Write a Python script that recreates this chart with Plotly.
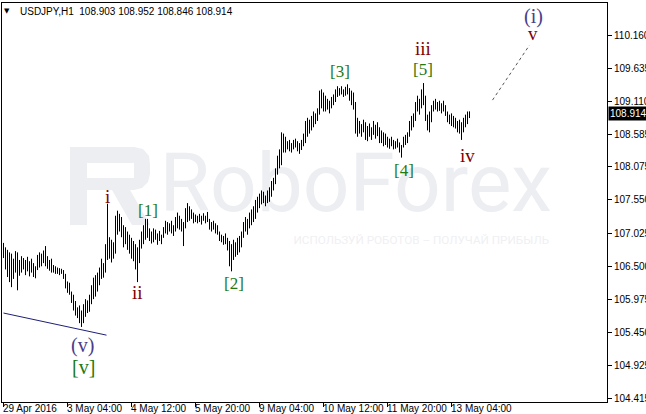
import plotly.graph_objects as go

# ---------------- data ----------------
symbol = "USDJPY,H1"
last_ohlc = [108.903, 108.952, 108.846, 108.914]

highs = [
    106.87, 106.80, 106.76, 106.72, 106.70, 106.62, 106.74, 106.72, 106.60, 106.66,
    106.63, 106.60, 106.65, 106.58, 106.62, 106.55, 106.50, 106.68, 106.72, 106.70,
    106.75, 106.82, 106.66, 106.60, 106.62, 106.52, 106.50, 106.48, 106.47, 106.46,
    106.44, 106.38, 106.26, 106.24, 106.10, 106.05, 105.95, 105.85, 105.88, 105.80,
    105.90, 105.98, 105.96, 106.05, 106.20, 106.32, 106.36, 106.40, 106.48, 106.62,
    106.55, 106.85, 107.49, 106.96, 106.92, 106.88, 107.30, 107.38, 107.33, 107.28,
    107.15, 107.12, 107.05, 107.00, 106.95, 106.90, 106.85, 106.80, 106.92, 107.05,
    107.15, 107.25, 107.25, 107.10, 107.05, 107.10, 107.08, 107.02, 107.06, 107.00,
    107.12, 107.22, 107.20, 107.18, 107.22, 107.15, 107.28, 107.35, 107.30, 107.25,
    107.20, 107.42, 107.50, 107.45, 107.40, 107.35, 107.32, 107.30, 107.33, 107.30,
    107.34, 107.30, 107.36, 107.25, 107.20, 107.22, 107.18, 107.15, 107.05, 107.00,
    106.98, 107.02, 106.95, 106.90, 106.85, 106.92, 106.88, 106.95, 106.98, 107.05,
    107.20, 107.28, 107.25, 107.35, 107.40, 107.45, 107.55, 107.60, 107.65, 107.70,
    107.68, 107.62, 107.70, 107.75, 107.85, 107.90, 108.05, 108.25, 108.35, 108.62,
    108.60, 108.55, 108.48, 108.50, 108.45, 108.50, 108.52, 108.48, 108.45, 108.50,
    108.60, 108.80, 108.85, 108.82, 108.88, 108.95, 108.92, 109.00, 109.28, 109.30,
    109.25, 109.20, 109.15, 109.12, 109.18, 109.22, 109.30, 109.35, 109.32, 109.35,
    109.30, 109.34, 109.38, 109.32, 109.28, 109.25, 109.10, 108.85, 108.80, 108.75,
    108.82, 108.78, 108.72, 108.76, 108.70, 108.80, 108.74, 108.78, 108.70, 108.65,
    108.62, 108.60, 108.55, 108.52, 108.55, 108.50, 108.48, 108.52, 108.46, 108.42,
    108.55, 108.58, 108.62, 108.80, 108.88, 108.92, 109.10, 109.20, 109.15, 109.30,
    109.40, 109.20, 108.90, 108.95, 109.05, 109.12, 109.15, 109.10, 109.12, 109.08,
    109.12, 109.05, 108.95, 108.90, 108.92, 108.88, 108.85, 108.80, 108.82, 108.78,
    108.85, 108.90, 108.95, 108.952,
]

lows = [
    106.63, 106.45, 106.33, 106.25, 106.17, 106.30, 106.40, 106.12, 106.35, 106.40,
    106.45, 106.36, 106.42, 106.34, 106.40, 106.33, 106.31, 106.44, 106.48, 106.50,
    106.55, 106.50, 106.46, 106.43, 106.40, 106.40, 106.38, 106.38, 106.36, 106.38,
    106.30, 106.15, 106.08, 106.05, 105.92, 105.80, 105.72, 105.68, 105.60, 105.54,
    105.60, 105.70, 105.76, 105.78, 105.90, 105.98, 106.02, 106.10, 106.20, 106.30,
    106.32, 106.40, 106.60, 106.62, 106.56, 106.62, 106.70, 107.00, 107.05, 106.96,
    106.80, 106.85, 106.76, 106.70, 106.62, 106.58, 106.45, 106.25, 106.55, 106.78,
    106.85, 106.92, 106.95, 106.90, 106.86, 106.88, 106.92, 106.84, 106.90, 106.85,
    106.95, 107.02, 107.00, 107.05, 107.02, 106.98, 107.05, 107.10, 107.08, 107.05,
    106.82, 107.10, 107.20, 107.22, 107.25, 107.18, 107.20, 107.18, 107.20, 107.16,
    107.22, 107.18, 107.20, 107.08, 107.05, 107.08, 107.02, 107.00, 106.90, 106.88,
    106.84, 106.85, 106.75, 106.50, 106.42, 106.60, 106.65, 106.68, 106.72, 106.80,
    106.95, 107.05, 107.00, 107.10, 107.15, 107.20, 107.25, 107.35, 107.42, 107.48,
    107.50, 107.45, 107.50, 107.52, 107.60, 107.70, 107.80, 107.95, 108.05, 108.10,
    108.30, 108.30, 108.35, 108.32, 108.30, 108.35, 108.38, 108.32, 108.28, 108.34,
    108.40, 108.45, 108.55, 108.60, 108.65, 108.70, 108.75, 108.80, 108.90, 109.00,
    108.95, 108.95, 108.98, 108.92, 109.00, 109.05, 109.10, 109.18, 109.20, 109.22,
    109.18, 109.20, 109.22, 109.12, 109.05, 108.98, 108.60, 108.55, 108.60, 108.55,
    108.62, 108.50, 108.48, 108.55, 108.50, 108.58, 108.52, 108.56, 108.45, 108.45,
    108.40, 108.42, 108.38, 108.36, 108.40, 108.35, 108.36, 108.38, 108.30, 108.22,
    108.38, 108.42, 108.45, 108.55, 108.65, 108.70, 108.80, 108.95, 108.90, 109.00,
    109.05, 108.80, 108.65, 108.62, 108.78, 108.95, 108.98, 108.95, 108.96, 108.92,
    108.95, 108.88, 108.78, 108.75, 108.72, 108.70, 108.68, 108.62, 108.60, 108.50,
    108.62, 108.70, 108.75, 108.846,
]

# time axis (bar index of each label)
time_tick_pos = [0, 32, 64, 96, 128, 160, 192, 224]
time_tick_text = ["29 Apr 2016", "3 May 04:00", "4 May 12:00", "5 May 20:00",
                  "9 May 04:00", "10 May 12:00", "11 May 20:00", "13 May 04:00"]

# price axis ticks
price_ticks = [110.160, 109.635, 109.110, 108.585, 108.075, 107.550,
               107.025, 106.500, 105.975, 105.450, 104.925, 104.415]

# trend line (bar index, price)
trend_x = [0, 51.5]
trend_y = [105.76, 105.41]
# projected dotted path
proj_x = [244.5, 263]
proj_y = [109.13, 110.00]

# wave labels: text, bar index, price, group
wave_text = ["i", "ii", "iii", "iv", "v", "(i)", "(v)", "[v]", "[1]", "[2]", "[3]", "[4]", "[5]"]
wave_x = [52, 67, 209.5, 232, 264.5, 265, 39.5, 40, 72.25, 115, 168, 200, 209.5]
wave_y = [107.61, 106.08, 109.94, 108.25, 110.18, 110.45, 105.25, 104.91, 107.39, 106.22, 109.58, 108.02, 109.61]
wave_grp = ["minor", "minor", "minor", "minor", "minor", "inter", "inter", "minute",
            "minute", "minute", "minute", "minute", "minute"]

# ---------------- layout helpers ----------------
W, H = 646, 414
L, R, T, B = 2, 39, 3, 12
PW, PH = W - L - R, H - T - B


def fx(px):
    return (px - L) / PW


def fy(py):
    return 1 - (py - T) / PH


def path_px(points):
    s = "M " + " L ".join(f"{fx(a):.5f},{fy(b):.5f}" for a, b in points) + " Z"
    return s


WM = "#eceef2"
fig = go.Figure()

# watermark text (drawn first so bars sit on top)
fig.add_trace(go.Scatter(
    x=[78], y=[107.70], mode="text", text=["RoboForex"], textposition="middle right",
    textfont=dict(family="Roboto, sans-serif", size=82, color=WM),
    hoverinfo="skip", showlegend=False))
fig.add_trace(go.Scatter(
    x=[145], y=[106.90], mode="text", text=["ИСПОЛЬЗУЙ РОБОТОВ – ПОЛУЧАЙ ПРИБЫЛЬ"],
    textposition="middle right",
    textfont=dict(family="Roboto, sans-serif", size=11.7, color="#eff0f3"),
    hoverinfo="skip", showlegend=False))

# bars (high-low)
bx, by = [], []
for i, (h, lo) in enumerate(zip(highs, lows)):
    bx += [i, i, None]
    by += [lo, h, None]
fig.add_trace(go.Scatter(x=bx, y=by, mode="lines", line=dict(color="black", width=1),
                         hoverinfo="skip", showlegend=False))

fig.add_trace(go.Scatter(x=trend_x, y=trend_y, mode="lines",
                         line=dict(color="#1e1e78", width=1), hoverinfo="skip", showlegend=False))
fig.add_trace(go.Scatter(x=proj_x, y=proj_y, mode="lines",
                         line=dict(color="#555555", width=1, dash="dot"), hoverinfo="skip",
                         showlegend=False))

# logo shapes
shapes = [
    dict(type="path", xref="paper", yref="paper", layer="below", fillcolor=WM, line=dict(width=0),
         path=path_px([(70, 147), (87, 147), (87, 225), (70, 225)])),
    dict(type="path", xref="paper", yref="paper", layer="below", fillcolor=WM, line=dict(width=0),
         path=path_px([(70, 147), (134, 147), (143, 149), (149, 156), (150, 165), (150, 174),
                        (148, 182), (142, 188), (134, 190), (87, 190), (87, 178), (134, 178),
                        (134, 163), (70, 163)])),
    dict(type="path", xref="paper", yref="paper", layer="below", fillcolor=WM, line=dict(width=0),
         path=path_px([(112, 190), (130, 190), (150, 225), (132, 225)])),
]

colors = {"minor": "#800000", "inter": "#483d8b", "minute": "#1f7a12"}
sizes = {"minor": 19, "inter": 20, "minute": 17}
ann = []
for t, x, y, g in zip(wave_text, wave_x, wave_y, wave_grp):
    sz = 20 if t == "[v]" else sizes[g]
    ann.append(dict(x=x, y=y, xref="x", yref="y", text=t, showarrow=False,
                    font=dict(family="Liberation Serif, serif", size=sz, color=colors[g]),
                    xanchor="center", yanchor="middle"))

# header
ann.append(dict(xref="paper", yref="paper", x=fx(2), y=fy(11), text="▼", showarrow=False,
                xanchor="left", yanchor="middle",
                font=dict(family="DejaVu Sans", size=7, color="black")))
ann.append(dict(xref="paper", yref="paper", x=fx(18), y=fy(11),
                text=symbol + "&nbsp;&nbsp;" + " ".join(f"{v:.3f}" for v in last_ohlc),
                showarrow=False, xanchor="left", yanchor="middle",
                font=dict(family="Liberation Sans, Arial", size=10, color="black")))

# time labels (left aligned at ticks)
for p, t in zip(time_tick_pos, time_tick_text):
    ann.append(dict(xref="x", yref="paper", x=p, y=fy(408.5), text=t, showarrow=False,
                    xanchor="left", yanchor="middle", xshift=-3,
                    font=dict(family="Liberation Sans, Arial", size=10, color="black")))

# current price tag
ann.append(dict(xref="paper", yref="y", x=1, y=last_ohlc[3], text=f"{last_ohlc[3]:.3f}",
                showarrow=False, xanchor="left", yanchor="middle", bgcolor="black",
                borderpad=1, xshift=1,
                font=dict(family="Liberation Sans, Arial", size=10, color="white")))

fig.update_layout(
    width=W, height=H, margin=dict(l=L, r=R, t=T, b=B, autoexpand=False),
    paper_bgcolor="white", plot_bgcolor="white",
    shapes=shapes, annotations=ann, showlegend=False,
    xaxis=dict(range=[-0.75, 301.75], tickvals=time_tick_pos, showticklabels=False,
               ticks="outside", ticklen=4, tickcolor="black", showgrid=False, zeroline=False,
               showline=True, mirror=True, linecolor="black", linewidth=1, fixedrange=True),
    yaxis=dict(range=[104.352, 110.667], side="right", tickvals=price_ticks,
               ticktext=[f"{v:.3f}" for v in price_ticks], ticks="outside", ticklen=4,
               tickcolor="black", showgrid=False, zeroline=False, showline=True, mirror=True,
               linecolor="black", linewidth=1,
               tickfont=dict(family="Liberation Sans, Arial", size=10, color="black"),
               fixedrange=True),
)

fig.write_html("out.html", config={"displayModeBar": False},
               post_script="document.body.style.margin='0px';document.body.style.padding='0px';")
